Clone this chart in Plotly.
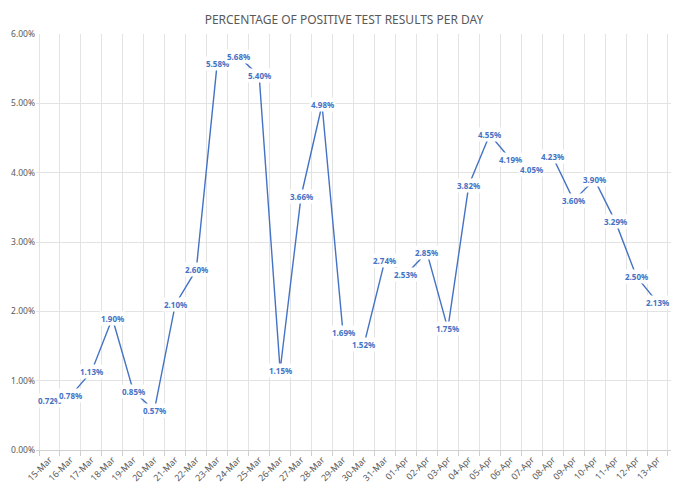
import plotly.graph_objects as go

days = ['15-Mar', '16-Mar', '17-Mar', '18-Mar', '19-Mar', '20-Mar', '21-Mar', '22-Mar',
        '23-Mar', '24-Mar', '25-Mar', '26-Mar', '27-Mar', '28-Mar', '29-Mar', '30-Mar',
        '31-Mar', '01-Apr', '02-Apr', '03-Apr', '04-Apr', '05-Apr', '06-Apr', '07-Apr',
        '08-Apr', '09-Apr', '10-Apr', '11-Apr', '12-Apr', '13-Apr']
positive_pct = [0.72, 0.78, 1.13, 1.90, 0.85, 0.57, 2.10, 2.60,
                5.58, 5.68, 5.40, 1.15, 3.66, 4.98, 1.69, 1.52,
                2.74, 2.53, 2.85, 1.75, 3.82, 4.55, 4.19, 4.05,
                4.23, 3.60, 3.90, 3.29, 2.50, 2.13]

blue = '#4472C4'
grey = '#595959'

fig = go.Figure()
fig.add_trace(go.Scatter(x=days, y=positive_pct, mode='lines',
                         line=dict(color=blue, width=1.4), hoverinfo='skip'))

# data labels sit on the points, white box hides the line underneath
for d, v in zip(days, positive_pct):
    fig.add_annotation(x=d, y=v, text='%.2f%%' % v, showarrow=False,
                       bgcolor='white', borderpad=1,
                       font=dict(family='Noto Sans', size=8, color=blue, weight='bold'))

# page body has an 8px margin, so the figure is a bit smaller than the window
fig.update_layout(
    width=672, height=482,
    paper_bgcolor='white', plot_bgcolor='white',
    margin=dict(l=28, r=9, t=26, b=40),
    showlegend=False,
    title=dict(text='PERCENTAGE OF POSITIVE TEST RESULTS PER DAY', x=0.5, xanchor='center',
               y=1 - 12 / 482, yanchor='middle',
               font=dict(family='Noto Sans', size=12, color=grey)),
    font=dict(family='Noto Sans', color=grey),
)
fig.update_xaxes(type='category', tickson='boundaries', showgrid=True, gridcolor='#E3E3E3',
                 gridwidth=1, ticks='outside', ticklen=5, tickcolor='#D0D0D0',
                 showline=True, linecolor='#D0D0D0', tickangle=-45, automargin=False,
                 tickfont=dict(size=9, color=grey))
fig.update_yaxes(range=[0, 6], dtick=1, tickformat='.2f', ticksuffix='%',
                 showgrid=True, gridcolor='#E3E3E3', zeroline=False, automargin=False,
                 tickfont=dict(size=8.5, color=grey))

fig.write_html('out.html')
